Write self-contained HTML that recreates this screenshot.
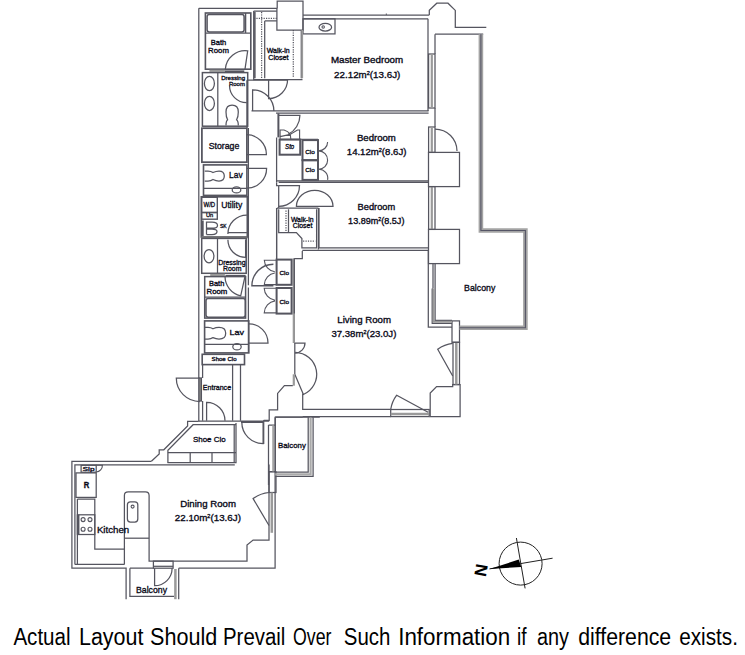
<!DOCTYPE html>
<html><head><meta charset="utf-8">
<style>
html,body{margin:0;padding:0;background:#fff;}
body{width:745px;height:655px;overflow:hidden;position:relative;}
svg{position:absolute;left:0;top:0;}
.t text{font-family:"Liberation Sans",sans-serif;fill:#0a0a18;stroke:#0a0a18;stroke-width:0.32;}
</style></head>
<body>
<svg width="745" height="655" viewBox="0 0 745 655">
<g fill="none" stroke="#55555f" stroke-width="1">
<path d="M198.8,8.3 H277.2" stroke-width="1.25"/>
<path d="M198.8,8.3 V378 M198.8,401 V421.5" stroke-width="1.25"/>
<rect x="198.8" y="378" width="2.6" height="23" stroke-width="1.25" fill="#888"/>
<path d="M277.2,8.3 V1 H303 V30 H276.9 V8.3" stroke-width="1.25"/>
<path d="M303,15 H429.3 M303,18.8 H428" stroke-width="1.25"/>
<path d="M386.3,15 V13.5" stroke-width="1.00"/>
<path d="M429.3,15 V10.3 L436.8,3.2 H448 L455.3,10.4 V27.4 H486.3" stroke-width="1.25"/>
<rect x="205.4" y="13" width="45.4" height="56.2" stroke-width="1.62"/>
<rect x="207.1" y="14.6" width="37" height="17.3" stroke-width="1.50" rx="2.2"/>
<path d="M245.6,13 V33 M205.4,33.1 H250.8" stroke-width="1.38"/>
<path d="M225.3,69.2 A20,20 0 0 1 247.7,50.8 L245,69.2" stroke-width="1.25"/>
<path d="M209.4,70.8 H224.8" stroke-width="2.2" stroke="#9a9a9a"/>
<path d="M224.8,71.2 H244.3" stroke-width="1.62"/>
<rect x="202.4" y="72.6" width="45.3" height="53.6" stroke-width="1.50"/>
<path d="M217.8,72.6 V126.2" stroke-width="1.25"/>
<ellipse cx="209.4" cy="83.5" rx="5" ry="7.1" stroke-width="1.25"/>
<ellipse cx="209.4" cy="103.4" rx="5" ry="7.1" stroke-width="1.25"/>
<path d="M226,125.4 Q226,121 227.6,119.8 Q226,117 226,112 Q226,105.2 232.1,105.2 Q238.3,105.2 238.3,112 Q238.3,117 236.6,119.8 Q238.3,121 238.3,125.4" stroke-width="1.25"/>
<path d="M229.5,85.5 A17.2,17.2 0 0 0 246.7,102.7" stroke-width="1.25"/>
<rect x="201.9" y="128.2" width="45" height="34" stroke-width="1.75"/>
<path d="M246.6,154.5 H266.4 A19.8,19.8 0 0 0 246.6,134.7" stroke-width="1.25"/>
<rect x="203.5" y="164.9" width="43.4" height="30.5" stroke-width="1.62"/>
<path d="M203.5,188.3 H246.9" stroke-width="1.25"/>
<path d="M204.7,171 H208 Q211,171 213,172.5 Q216,171 219,171 Q224.3,171 224.3,176 Q224.3,181 219,181 Q216,181 213,179.5 Q211,181 208,181 H204.7" stroke-width="1.25"/>
<ellipse cx="236.5" cy="189.9" rx="4.3" ry="3" stroke-width="1.25"/>
<path d="M246.9,168.4 H266.6 A19.7,19.7 0 0 1 246.9,188.1" stroke-width="1.25"/>
<rect x="201.3" y="196.8" width="46" height="40.2" stroke-width="1.62"/>
<rect x="201.7" y="197.3" width="15.6" height="15.2" stroke-width="1.38"/>
<rect x="201.7" y="212.5" width="15.6" height="6.7" stroke-width="1.38"/>
<path d="M206.5,221.5 V234.5 M206.5,222 H212 Q217.5,222 217.5,225.5 Q217.5,228 214,228 H206.5 M206.5,229 H212 Q217,229 217,231.5 Q217,234.5 212,234.5 H206.5" stroke-width="1.25"/>
<path d="M202.7,220.5 V236" stroke-width="2.00"/>
<path d="M246.9,215 A19,19 0 0 0 227.9,234 M227.9,232.7 H246.9" stroke-width="1.25"/>
<path d="M201.3,237.6 H247.5" stroke-width="2.0" stroke="#777"/>
<rect x="201.7" y="238.4" width="44.5" height="34.9" stroke-width="1.50"/>
<path d="M217.5,238.4 V273.3" stroke-width="1.25"/>
<ellipse cx="209" cy="256.2" rx="4.9" ry="6.7" stroke-width="1.25"/>
<path d="M227.9,239.7 A17.7,17.7 0 0 0 245.6,257.4 V239.7" stroke-width="1.25"/>
<path d="M210.2,274.9 H224.9" stroke-width="2.2" stroke="#9a9a9a"/>
<path d="M225.5,275.7 H245.6" stroke-width="1.62"/>
<rect x="204.7" y="276.6" width="40.9" height="41.5" stroke-width="1.50"/>
<path d="M204.7,297.1 H245.6" stroke-width="1.25"/>
<rect x="206" y="298.6" width="39.3" height="18.6" stroke-width="1.50" rx="2.2"/>
<path d="M225,276.3 A20,20 0 0 0 240.7,295.8 L245,276.3" stroke-width="1.25"/>
<rect x="204.6" y="320.9" width="44.2" height="32" stroke-width="1.62"/>
<path d="M204.6,344.4 H248.8" stroke-width="1.25"/>
<path d="M204.6,327.4 H208 Q211,327.4 213,328.8 Q216,327.4 219,327.4 Q225.7,327.4 225.7,333.2 Q225.7,339 219,339 Q216,339 213,337.6 Q211,339 208,339 H204.6" stroke-width="1.25"/>
<ellipse cx="237" cy="346.8" rx="4.2" ry="3.2" stroke-width="1.25"/>
<path d="M248.8,343 H268 A19.2,19.2 0 0 0 248.8,323.8" stroke-width="1.25"/>
<rect x="202.2" y="354.3" width="42.3" height="10.3" stroke-width="1.62"/>
<path d="M232.6,364.6 V420.7 M240.5,364.6 V420.7" stroke-width="1.25"/>
<path d="M202.6,364.6 V378 M202.6,401 V420.7" stroke-width="1.25"/>
<path d="M199.8,378 H176.3 A23.5,23.5 0 0 0 199.8,401.5" stroke-width="1.25"/>
<path d="M206.6,420.8 V402.4 A18.4,18.4 0 0 1 225,420.8" stroke-width="1.25"/>
<path d="M198.6,421 H269.2 M241,422.3 H263.1" stroke-width="1.25"/>
<path d="M151.4,461.3 L159.2,454 V449.8 H163.8 L187.6,426 V421.4 H198.6" stroke-width="1.25"/>
<path d="M167.9,462.7 V450.3 L193.1,424.7 H236" stroke-width="1.25"/>
<path d="M236,423 V462.7 H167.5 M234.2,424.7 V462.7" stroke-width="1.25"/>
<path d="M167.9,452.6 H236 M190.2,452.6 V462.7 M212,452.6 V462.7" stroke-width="1.25"/>
<path d="M241.8,422.3 A21.3,21.3 0 0 0 263.1,443.6 V422.3" stroke-width="1.25"/>
<path d="M263.7,420.3 V444.1" stroke-width="1.25"/>
<path d="M151.4,461.3 H71.9 V568.2 H126.1 V599.2" stroke-width="1.25"/>
<path d="M74.9,564.4 V464.9 H234.8 M74.9,564.4 H124.4" stroke-width="1.25"/>
<path d="M77.4,499 H94.8 V549.1 H124.4 M77.4,499 V564.4" stroke-width="1.25"/>
<rect x="76" y="472.9" width="20.2" height="24.5" stroke-width="1.25"/>
<rect x="81.1" y="465.3" width="15.1" height="6.9" stroke-width="1.25"/>
<path d="M96.2,465.3 H102.4 A6.5,6.5 0 0 1 96.2,472" stroke-width="1.12"/>
<rect x="77.4" y="514.8" width="17.4" height="19.7" stroke-width="1.25"/>
<path d="M78.2,514.8 V534.5" stroke-width="2.50"/>
<circle cx="83.1" cy="519.6" r="2.0" stroke-width="1.12"/>
<circle cx="90" cy="519.6" r="2.0" stroke-width="1.12"/>
<circle cx="83.1" cy="529.3" r="2.0" stroke-width="1.12"/>
<circle cx="90" cy="529.3" r="2.0" stroke-width="1.12"/>
<path d="M124.4,564.4 V495.4 Q124.4,491.9 128.2,491.9 H145.4 Q149.1,491.9 149.1,495.6 V561.1 H247 V545 L253.1,540.1 H269 V464.4" stroke-width="1.25"/>
<path d="M124.4,538.2 H149.1" stroke-width="1.25"/>
<rect x="127.4" y="501.8" width="10.4" height="20.3" stroke-width="1.25" rx="3"/>
<circle cx="132.6" cy="506.6" r="1.5" stroke-width="1.12"/>
<path d="M275.1,417.2 V568.2 H178.7" stroke-width="1.25"/>
<rect x="269" y="471.8" width="7" height="20.7" stroke-width="1.25"/>
<path d="M271.8,492.5 V532.8" stroke-width="2.5" stroke="#9a9a9a"/>
<path d="M269,525.5 L253.1,498.6 A31.5,31.5 0 0 1 269,492.5" stroke-width="1.25"/>
<rect x="153.4" y="561.1" width="19.7" height="7.1" stroke-width="1.25"/>
<path d="M153.4,566.3 H173.1" stroke-width="1.25"/>
<path d="M129.9,568.2 V596.4 H174 M129.9,568.2 H153.8" stroke-width="1.25"/>
<path d="M175.4,569 V599.2" stroke-width="2.5" stroke="#9a9a9a"/>
<path d="M178.7,568.2 V599.2" stroke-width="1.25"/>
<path d="M154.6,568.2 V585.7 A17.5,17.5 0 0 0 172.1,568.2" stroke-width="1.25"/>
<path d="M275.3,472.2 V417.2 H319.8" stroke-width="1.25"/>
<path d="M308.2,417.2 V472.2 H275.3 M313.1,417.2 V476.4 H275.3" stroke-width="1.25"/>
<path d="M310.6,417.2 V474.3 H275.3" stroke-width="2.2" stroke="#aaa"/>
<path d="M268.5,425.1 V485 M268.5,425.1 H275.3 M268.5,471.5 H275.3" stroke-width="1.25"/>
<path d="M273.1,425.1 V471.5" stroke-width="1.6" stroke="#9a9a9a"/>
<path d="M302.3,251 V258.6 H294.3 V343" stroke-width="1.25"/>
<path d="M302.3,250.3 H428.3 V327.2 H452" stroke-width="1.25"/>
<path d="M293.8,258.6 V343" stroke-width="2.2" stroke="#9a9a9a"/>
<path d="M294.8,343 V374.3" stroke-width="1.25"/>
<path d="M294.8,343 H305 A10,10 0 0 1 295,353" stroke-width="1.25"/>
<path d="M295.2,352.3 A22,22 0 0 1 303.4,394.5 L294.8,374.3" stroke-width="1.25"/>
<path d="M293.8,374.3 V385.7" stroke-width="2.2" stroke="#9a9a9a"/>
<path d="M292.8,385.7 H284.4 L277.6,393.4 V409.9 H269.2 V420.3 H263.7" stroke-width="1.25"/>
<path d="M302.7,393.4 V409.4 H390.7 M302.7,416.6 H390.7 M275.3,417.2 H302.7" stroke-width="1.25"/>
<rect x="390.7" y="409.5" width="38.5" height="7.1" stroke-width="1.25"/>
<path d="M390.7,413.9 H429.2" stroke-width="2.5" stroke="#9a9a9a"/>
<path d="M428.1,412.3 L396.7,395.2 A32,32 0 0 0 390.7,409.5" stroke-width="1.25"/>
<path d="M430.2,416.6 V393 L436.6,386.6 H452.7 V384.5 H460.1 V416.6 Z" stroke-width="1.25"/>
<rect x="453" y="342.3" width="6.5" height="42.2" stroke-width="1.25"/>
<path d="M456.3,342.3 V384.5" stroke-width="2.5" stroke="#9a9a9a"/>
<path d="M452.7,376 L437.7,349.2 A31,31 0 0 1 452.7,343.3" stroke-width="1.25"/>
<rect x="452" y="320.9" width="7.5" height="21.4" stroke-width="1.25"/>
<rect x="428.6" y="54" width="6.4" height="54" stroke-width="1.25"/>
<path d="M431.8,54 V108" stroke-width="2.2" stroke="#9a9a9a"/>
<rect x="428.6" y="127" width="6.4" height="25.400000000000006" stroke-width="1.25"/>
<path d="M431.8,127 V152.4" stroke-width="2.2" stroke="#9a9a9a"/>
<rect x="428.6" y="186.6" width="6.4" height="42.80000000000001" stroke-width="1.25"/>
<path d="M431.8,186.6 V229.4" stroke-width="2.2" stroke="#9a9a9a"/>
<rect x="428.5" y="152.4" width="31" height="34.2" stroke-width="1.25"/>
<path d="M435.1,263.6 V320.4 H452 M432.2,288.5 V323.3 H452 M433,263.6 V288.5" stroke-width="1.25"/>
<path d="M433.6,288.5 V321.8 H452" stroke-width="2.0" stroke="#9a9a9a"/>
<rect x="428.5" y="229.4" width="31" height="34.2" stroke-width="1.25"/>
<path d="M435,34.2 V54 M435,108 V127" stroke-width="1.25"/>
<path d="M435,129 A22,22 0 0 1 457,151" stroke-width="1.25"/>
<path d="M435,34.2 H483.2" stroke-width="1.25"/>
<path d="M480.9,34.2 V230.5 H525.4 V327.7 H459.5" stroke-width="4.6" stroke="#a4a4a4"/>
<path d="M480.9,34.2 V230.5 H525.4 V327.7 H459.5" stroke-width="1.1" stroke="#555566"/>
<path d="M428,18.8 V111" stroke-width="1.25"/>
<rect x="303" y="18.8" width="32" height="15.1" stroke-width="1.25"/>
<ellipse cx="325.3" cy="27.2" rx="6.3" ry="3.8" stroke-width="1.25"/>
<circle cx="323.2" cy="27" r="1.2" stroke-width="1.12"/>
<path d="M253.7,11.1 H276.9 M253.7,11.1 V79.5 H302.5 M255,12 V78.3" stroke-width="1.25"/>
<path d="M301.3,30 V78.3" stroke-width="1.25"/>
<path d="M302.2,30 V78.3" stroke-width="1.8" stroke="#9a9a9a"/>
<path d="M264.7,20.9 V78.3 M264.7,20.9 H276.9" stroke-width="1.25"/>
<path d="M261.6,12 V78 M254,18.4 H276.9 M293.3,30 V78" stroke-width="1.25" stroke-dasharray="1.2,1.2"/>
<path d="M246.9,80.2 H287.6 M246.9,80.2 V128" stroke-width="1.25"/>
<path d="M268.6,79.5 V98.5 A19,19 0 0 0 287.6,79.5" stroke-width="1.25"/>
<path d="M248.4,128 V285.3 M248.4,287.4 V353" stroke-width="1.25"/>
<path d="M252.6,111.1 V89.8 A21.3,21.3 0 0 1 273.9,111.1" stroke-width="1.25"/>
<path d="M251.5,110.9 H428.6" stroke-width="1.25"/>
<path d="M276,113.1 H428.6" stroke-width="1.25"/>
<path d="M278.4,113.4 V137.4" stroke-width="2.00"/>
<path d="M276.6,137.4 V182.4 M276.6,208 V259.6" stroke-width="1.25"/>
<path d="M278.4,115.4 H299.9 A21.5,21.5 0 0 1 288.2,134.4" stroke-width="1.25"/>
<path d="M278.7,182.4 H428.6 M276.9,180.8 H428.6" stroke-width="1.25"/>
<rect x="279.6" y="139.6" width="20.6" height="15.1" stroke-width="2.00"/>
<path d="M280.1,139.3 V130 H284 Q288,131 290.3,134.3 L280.1,136.6 M299.6,139.3 V130 H297.5 L290.3,134.3 L290.8,139.3" stroke-width="1.12"/>
<rect x="302.5" y="140.1" width="15.5" height="20.1" stroke-width="2.00"/>
<rect x="302.5" y="160.2" width="15.5" height="19.7" stroke-width="2.00"/>
<path d="M280,139.2 H318" stroke-width="1.12"/>
<path d="M327.6,141.9 A9,9 0 0 1 318.6,150.9 A9,9 0 0 1 327.6,160.2 A9,9 0 0 1 318.6,169.2 A9,9 0 0 1 327.6,179.9" stroke-width="1.12"/>
<path d="M278.7,185.5 V208.1 M276.6,182.4 V185.5 H278.7" stroke-width="1.25"/>
<path d="M278.7,185.5 H299.5 A20.8,20.8 0 0 1 278.7,206.3" stroke-width="1.25"/>
<path d="M296.4,206.3 A18.3,16 0 0 1 333,206.3 Z" stroke-width="1.25"/>
<path d="M276.9,208.1 H318.4" stroke-width="1.25"/>
<path d="M278.7,209.3 V232.5 H296.4 L301.9,238.6 V247.8 H316.6 V209.3" stroke-width="1.25"/>
<path d="M286,210.5 V232.5 M303.1,241 H315.3" stroke-width="1.25" stroke-dasharray="1.2,1.2"/>
<path d="M288.5,209.3 V232.5" stroke-width="1.25"/>
<path d="M318.4,208.1 V249.5" stroke-width="1.25"/>
<path d="M319,208.1 V247.8 H428.6" stroke-width="1.25"/>
<path d="M276.6,259.6 V208" stroke-width="1.25"/>
<rect x="276.6" y="259.6" width="15" height="25.2" stroke-width="2.00"/>
<rect x="276.6" y="288" width="15" height="25.6" stroke-width="2.00"/>
<path d="M276.6,260.2 H264.3 A12.3,12.3 0 0 0 274.8,271.8 M276.6,284.6 H264.3 A12.3,12.3 0 0 1 274.8,273" stroke-width="1.12"/>
<path d="M276.6,288.2 H264.2 A12.6,12.6 0 0 0 275,300.3 M276.6,312.9 H264.2 A12.6,12.6 0 0 1 275,300.9" stroke-width="1.12"/>
<path d="M273.4,285.8 H251.9 A21.5,21.5 0 0 1 273.4,264.3" stroke-width="1.38"/>
<path d="M294.3,313.6 V258.6" stroke-width="1.25"/>
<circle cx="520.6" cy="563.6" r="21.5" stroke="#222"/>
<path d="M516.4,538 L525.1,588.4 M520.6,563.6 L552.6,558.2 M489.5,568.9 L520.6,563.6" stroke="#222"/>
</g>
<path d="M489.5,568.9 L518.8,559.6 L521.3,567 Z" fill="#000"/>
<text x="480.8" y="576.3" font-size="17" font-weight="bold" font-family="Liberation Sans, sans-serif" transform="rotate(-80 480.8 570.2)" text-anchor="middle" fill="#000">N</text>
<g class="t">
<text x="330.9" y="63.1" textLength="72.3" lengthAdjust="spacingAndGlyphs" font-size="8.45">Master Bedroom</text>
<text x="334.1" y="77.8" textLength="66.2" lengthAdjust="spacingAndGlyphs" font-size="8.8">22.12m<tspan font-size='5' dy='-3.2'>2</tspan><tspan dy='3.2'>(</tspan>13.6J)</text>
<text x="356.9" y="141.1" textLength="39" lengthAdjust="spacingAndGlyphs" font-size="8.5">Bedroom</text>
<text x="346.8" y="155.4" textLength="59.6" lengthAdjust="spacingAndGlyphs" font-size="8.6">14.12m<tspan font-size='5' dy='-3.2'>2</tspan><tspan dy='3.2'>(</tspan>8.6J)</text>
<text x="357.6" y="209.8" textLength="37.6" lengthAdjust="spacingAndGlyphs" font-size="8.5">Bedroom</text>
<text x="348.1" y="224" textLength="56.3" lengthAdjust="spacingAndGlyphs" font-size="8.6">13.89m<tspan font-size='5' dy='-3.2'>2</tspan><tspan dy='3.2'>(</tspan>8.5J)</text>
<text x="337.3" y="323.3" textLength="53.7" lengthAdjust="spacingAndGlyphs" font-size="9">Living Room</text>
<text x="331.4" y="337.2" textLength="65" lengthAdjust="spacingAndGlyphs" font-size="9">37.38m<tspan font-size='5' dy='-3.2'>2</tspan><tspan dy='3.2'>(</tspan>23.0J)</text>
<text x="180.2" y="507.4" textLength="55.8" lengthAdjust="spacingAndGlyphs" font-size="8.8">Dining Room</text>
<text x="174.8" y="521.2" textLength="66.1" lengthAdjust="spacingAndGlyphs" font-size="8.8">22.10m<tspan font-size='5' dy='-3.2'>2</tspan><tspan dy='3.2'>(</tspan>13.6J)</text>
<text x="464.1" y="290.6" textLength="31.2" lengthAdjust="spacingAndGlyphs" font-size="9">Balcony</text>
<text x="278.1" y="448.3" textLength="27.7" lengthAdjust="spacingAndGlyphs" font-size="7.7">Balcony</text>
<text x="136" y="593.3" textLength="31" lengthAdjust="spacingAndGlyphs" font-size="8.3">Balcony</text>
<text x="208.7" y="148.6" textLength="30.6" lengthAdjust="spacingAndGlyphs" font-size="8.5">Storage</text>
<text x="229.1" y="178.3" textLength="13.5" lengthAdjust="spacingAndGlyphs" font-size="8.3">Lav</text>
<text x="229.5" y="335" textLength="14.6" lengthAdjust="spacingAndGlyphs" font-size="8.1">Lav</text>
<text x="221.2" y="208.4" textLength="21" lengthAdjust="spacingAndGlyphs" font-size="8.5">Utility</text>
<text x="203.5" y="207" textLength="11.6" lengthAdjust="spacingAndGlyphs" font-size="6.5">W/D</text>
<text x="206" y="217.4" textLength="7.3" lengthAdjust="spacingAndGlyphs" font-size="6">Un</text>
<text x="220" y="228.4" textLength="6.7" lengthAdjust="spacingAndGlyphs" font-size="5.5">SK</text>
<text x="210.7" y="44.7" textLength="15.5" lengthAdjust="spacingAndGlyphs" font-size="7">Bath</text>
<text x="208.1" y="52.7" textLength="20.8" lengthAdjust="spacingAndGlyphs" font-size="7">Room</text>
<text x="266.7" y="53.1" textLength="23" lengthAdjust="spacingAndGlyphs" font-size="6.6">Walk-in</text>
<text x="268.2" y="59.6" textLength="20.4" lengthAdjust="spacingAndGlyphs" font-size="6.6">Closet</text>
<text x="221.2" y="79.7" textLength="23.8" lengthAdjust="spacingAndGlyphs" font-size="6.2">Dressing</text>
<text x="228.9" y="86" textLength="16.1" lengthAdjust="spacingAndGlyphs" font-size="6.2">Room</text>
<text x="218.2" y="264.7" textLength="27.4" lengthAdjust="spacingAndGlyphs" font-size="6.8">Dressing</text>
<text x="223" y="271.4" textLength="18.4" lengthAdjust="spacingAndGlyphs" font-size="6.8">Room</text>
<text x="209" y="286.1" textLength="15.3" lengthAdjust="spacingAndGlyphs" font-size="6.8">Bath</text>
<text x="206.5" y="294" textLength="20.8" lengthAdjust="spacingAndGlyphs" font-size="6.8">Room</text>
<text x="211.6" y="361.3" textLength="24.9" lengthAdjust="spacingAndGlyphs" font-size="5.9">Shoe Clo</text>
<text x="202.8" y="390.2" textLength="28.3" lengthAdjust="spacingAndGlyphs" font-size="7.5">Entrance</text>
<text x="192.9" y="441.8" textLength="32.8" lengthAdjust="spacingAndGlyphs" font-size="8.1">Shoe Clo</text>
<text x="290.9" y="221.5" textLength="22.6" lengthAdjust="spacingAndGlyphs" font-size="6.8">Walk-in</text>
<text x="292.8" y="228" textLength="19.5" lengthAdjust="spacingAndGlyphs" font-size="6.8">Closet</text>
<text x="285.1" y="149.2" textLength="9.1" lengthAdjust="spacingAndGlyphs" font-size="6.4" font-style="italic">Sto</text>
<text x="305.2" y="153.6" textLength="9.6" lengthAdjust="spacingAndGlyphs" font-size="6.2">Clo</text>
<text x="305.2" y="172.1" textLength="9.6" lengthAdjust="spacingAndGlyphs" font-size="6.2">Clo</text>
<text x="279.5" y="274.5" textLength="9.6" lengthAdjust="spacingAndGlyphs" font-size="6.2">Clo</text>
<text x="279.5" y="303.5" textLength="9.6" lengthAdjust="spacingAndGlyphs" font-size="6.2">Clo</text>
<text x="83.8" y="488" textLength="5.5" lengthAdjust="spacingAndGlyphs" font-size="8.3" font-weight="bold">R</text>
<text x="82.5" y="471.3" textLength="12" lengthAdjust="spacingAndGlyphs" font-size="6">Slp</text>
<text x="96.9" y="533.1" textLength="32.3" lengthAdjust="spacingAndGlyphs" font-size="9.2">Kitchen</text>
</g>
<g font-family="Liberation Sans, sans-serif" font-size="23" fill="#000">
<text x="13.40" y="644.7" textLength="57.20" lengthAdjust="spacingAndGlyphs">Actual</text>
<text x="79.00" y="644.7" textLength="64.40" lengthAdjust="spacingAndGlyphs">Layout</text>
<text x="150.00" y="644.7" textLength="67.20" lengthAdjust="spacingAndGlyphs">Should</text>
<text x="223.00" y="644.7" textLength="62.40" lengthAdjust="spacingAndGlyphs">Prevail</text>
<text x="293.00" y="644.7" textLength="38.40" lengthAdjust="spacingAndGlyphs">Over</text>
<text x="343.80" y="644.7" textLength="46.60" lengthAdjust="spacingAndGlyphs">Such</text>
<text x="398.20" y="644.7" textLength="112.00" lengthAdjust="spacingAndGlyphs">Information</text>
<text x="517.00" y="644.7" textLength="9.60" lengthAdjust="spacingAndGlyphs">if</text>
<text x="537.00" y="644.7" textLength="32.00" lengthAdjust="spacingAndGlyphs">any</text>
<text x="578.20" y="644.7" textLength="93.00" lengthAdjust="spacingAndGlyphs">difference</text>
<text x="679.20" y="644.7" textLength="58.80" lengthAdjust="spacingAndGlyphs">exists.</text>
</g>
</svg>
</body></html>
